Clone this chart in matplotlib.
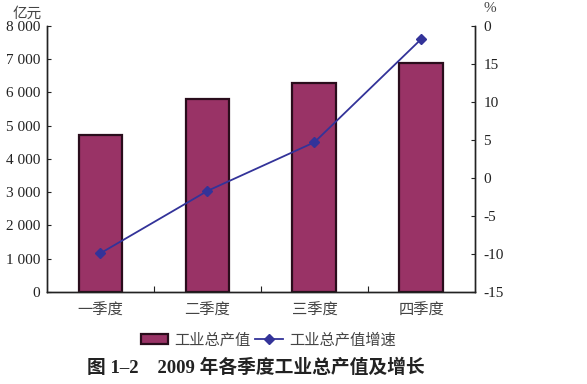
import matplotlib
matplotlib.use("Agg")
import matplotlib.pyplot as plt
from matplotlib.ticker import FuncFormatter, MultipleLocator
from matplotlib.patches import Patch
from matplotlib.lines import Line2D

plt.rcParams['font.family'] = ['Liberation Serif', 'Noto Sans CJK SC', 'DejaVu Sans']

quarters = ["一季度", "二季度", "三季度", "四季度"]
output_value = [4730, 5800, 6280, 6880]   # 亿元
growth_rate = [-9.9, -1.7, 4.7, 18.3]     # %

bar_color = "#993366"
line_color = "#333399"
cjk = ['Noto Sans CJK SC', 'DejaVu Sans']

fig = plt.figure(figsize=(5.87, 3.84), dpi=100)
ax = fig.add_axes([0.080, 0.2396, 0.729, 0.6927])
ax2 = ax.twinx()

x = list(range(len(quarters)))
ax.bar(x, output_value, width=0.41, color=bar_color, edgecolor="#2a0d1c", linewidth=1.6, zorder=2)
ax.set_xlim(-0.5, 3.5)
ax.set_ylim(0, 8000)
ax.yaxis.set_major_locator(MultipleLocator(1000))
ax.yaxis.set_major_formatter(FuncFormatter(lambda v, p: "{:,}".format(int(v)).replace(",", " ")))

ax2.plot(x, growth_rate, color=line_color, linewidth=1.3, marker="D", markersize=5,
         markerfacecolor=line_color, markeredgecolor=line_color, zorder=3)
ax2.set_ylim(-15, 20)
ax2.yaxis.set_major_locator(MultipleLocator(5))
# top label is clipped to "0" in the original
ax2.yaxis.set_major_formatter(FuncFormatter(lambda v, p: "0" if v == 20 else "%d" % v))

for a in (ax, ax2):
    a.spines['top'].set_visible(False)
    for s in a.spines.values():
        s.set_color("#222222")
        s.set_linewidth(1.0)

ax.set_xticks([0.5, 1.5, 2.5])
ax.set_xticklabels([])
ax.tick_params(axis='x', direction='in', length=4, color="#222222")
ax.set_xticks(x, minor=True)
ax.set_xticklabels(quarters, minor=True, fontsize=11, color="#444444", family=cjk)
ax.tick_params(axis='x', which='minor', length=0, pad=7)
ax.tick_params(axis='y', direction='in', length=3, labelsize=11, colors="#222222", pad=5)
ax2.tick_params(axis='y', direction='in', length=3, labelsize=11, colors="#222222", pad=6)

fig.text(0.022, 0.965, "亿元", fontsize=10.5, color="#444444", family=cjk, va='center')
fig.text(0.823, 0.978, "%", fontsize=11, color="#444444", va='center')

handles = [Patch(facecolor=bar_color, edgecolor="#2a0d1c", linewidth=1.6),
           Line2D([0], [0], color=line_color, linewidth=1.3, marker="D", markersize=5)]
fig.legend(handles, ["工业总产值", "工业总产值增速"], loc='center', bbox_to_anchor=(0.457, 0.115),
           ncol=2, frameon=False, prop={'family': cjk, 'size': 11}, handlelength=1.8,
           handletextpad=0.4, columnspacing=0.3, labelcolor="#444444")

fig.text(0.148, 0.042, "图 1–2    2009 年各季度工业总产值及增长", fontsize=13.5, fontweight='bold',
         color="#222222", va='center', family=['Liberation Serif', 'Noto Sans CJK SC'])

fig.savefig("out.png", dpi=100)
